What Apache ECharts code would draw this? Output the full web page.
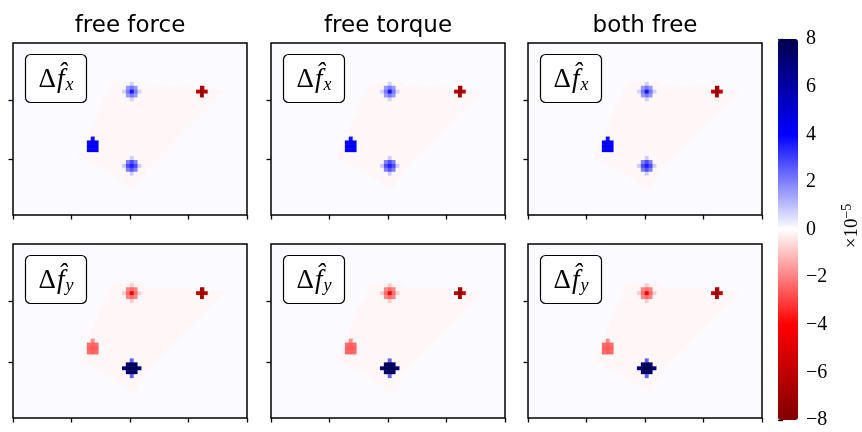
<!DOCTYPE html>
<html><head><meta charset="utf-8">
<script src="https://cdn.jsdelivr.net/npm/echarts@6/dist/echarts.min.js"></script>
<style>html,body{margin:0;padding:0;background:#fff}#c{width:862px;height:432px}</style>
</head><body><div id="c"></div>
<script>
// ---------- data ----------
const columnTitles = ['free force', 'free torque', 'both free'];
const rowComponents = ['x', 'y'];
const nCols = 60, nRows = 44;
// faint noisy region: [row, firstCol, lastCol]
const regionRows = [
  [10,25,33],[11,25,45],[12,24,53],[13,24,52],[14,23,51],[15,23,50],[16,22,49],
  [17,22,48],[18,22,47],[19,21,46],[20,21,45],[21,20,44],[22,20,43],[23,20,42],
  [24,19,41],[25,19,40],[26,18,39],[27,18,38],[28,17,37],[29,17,36],[30,19,35],
  [31,21,34],[32,23,33],[33,25,33],[34,26,32],[35,28,31],[36,29,31]
];
const regionValue = -0.12;
// blobs [col, row, value] (x 1e-5)
const fxBlobs = [
  [30,10,0.7],[28,12,0.7],[32,12,0.7],[30,14,0.7],
  [29,11,1.6],[30,11,2.1],[31,11,1.6],[29,12,2.1],[30,12,3.7],[31,12,2.1],[29,13,1.6],[30,13,2.1],[31,13,1.6],
  [48,11,-6.8],[48,12,-7.2],[48,13,-6.8],[47,12,-6.0],[49,12,-6.0],
  [20,24,3.8],[19,25,4.0],[20,25,4.1],[21,25,4.0],[19,26,4.1],[20,26,4.2],[21,26,4.1],[19,27,4.0],[20,27,4.1],[21,27,4.0],
  [30,29,0.8],[28,31,0.8],[32,31,0.8],[30,33,0.8],
  [29,30,2.0],[30,30,2.8],[31,30,2.0],[29,31,2.8],[30,31,3.5],[31,31,2.8],[29,32,2.0],[30,32,2.7],[31,32,2.0]
];
const fyBlobs = [
  [30,10,-0.8],[28,12,-0.8],[32,12,-0.8],[30,14,-0.8],
  [29,11,-1.9],[30,11,-2.3],[31,11,-1.9],[29,12,-2.3],[30,12,-4.2],[31,12,-2.3],[29,13,-1.9],[30,13,-2.3],[31,13,-1.9],
  [48,11,-6.8],[48,12,-7.2],[48,13,-6.8],[47,12,-6.0],[49,12,-6.0],
  [20,24,-1.8],[19,25,-2.3],[20,25,-2.5],[21,25,-2.3],[19,26,-2.5],[20,26,-2.6],[21,26,-2.5],[19,27,-2.3],[20,27,-2.5],[21,27,-2.3],
  [30,29,2.5],[30,33,2.5],
  [29,30,7.4],[30,30,7.6],[31,30,7.4],
  [28,31,7.0],[29,31,7.7],[30,31,7.9],[31,31,7.7],[32,31,7.0],
  [29,32,7.4],[30,32,7.6],[31,32,7.4]
];
const panelBlobs = [fxBlobs, fyBlobs];
const xTickValues = [0, 15, 30, 45, 60];
const yTickValues = [14.2, 29.4];
const cbMin = -8, cbMax = 8, cbStep = 2;
const cbColors = ['#800000', '#ff0000', '#ffffff', '#0000ff', '#00004d'];

// ---------- layout ----------
const panelLefts = [13, 271, 528];
const PW = 234;
const panelTops = [43, 244];
const panelHeights = [172, 174];
const cb = {left: 778, top: 39, width: 20, height: 381};

const colCats = Array.from({length: nCols}, (_, i) => i);
const rowCats = Array.from({length: nRows}, (_, i) => i);

function panelData(blobs) {
  const m = new Map();
  regionRows.forEach(([r, c0, c1]) => { for (let c = c0; c <= c1; c++) m.set(c + ',' + r, [c, r, regionValue]); });
  blobs.forEach(([c, r, v]) => m.set(c + ',' + r, [c, r, v]));
  return Array.from(m.values());
}

const grids = [], xAxes = [], yAxes = [], series = [], graphics = [];
const tickStyle = {color: '#000', width: 1.3};
for (let r = 0; r < 2; r++) {
  for (let c = 0; c < 3; c++) {
    const idx = r * 3 + c;
    const L = panelLefts[c], T = panelTops[r], H = panelHeights[r];
    grids.push({left: L, top: T, width: PW, height: H, show: true, borderColor: '#000', borderWidth: 1.5, backgroundColor: '#fbfbff'});
    xAxes.push({type: 'category', gridIndex: idx, data: colCats, show: false});
    xAxes.push({type: 'value', gridIndex: idx, min: 0, max: nCols, position: 'bottom',
      axisLine: {show: false}, axisTick: {show: true, inside: false, length: 4.5, customValues: xTickValues, lineStyle: tickStyle},
      axisLabel: {show: false}, splitLine: {show: false}});
    yAxes.push({type: 'category', gridIndex: idx, data: rowCats, inverse: true, show: false});
    yAxes.push({type: 'value', gridIndex: idx, min: 0, max: nRows, position: 'left',
      axisLine: {show: false}, axisTick: {show: true, inside: false, length: 4.5, customValues: yTickValues, lineStyle: tickStyle},
      axisLabel: {show: false}, splitLine: {show: false}});
    series.push({type: 'heatmap', xAxisIndex: 2 * idx, yAxisIndex: 2 * idx, data: panelData(panelBlobs[r]),
      silent: true, progressive: 0, itemStyle: {borderWidth: 0}, emphasis: {disabled: true}});
    // boxed label
    const bx = L + 12.5, by = T + 11.5, bw = 61, bh = 48;
    graphics.push({type: 'rect', z: 100, shape: {x: bx, y: by, width: bw, height: bh, r: 5},
      style: {fill: '#fff', stroke: '#000', lineWidth: 1.2}});
    graphics.push({type: 'text', z: 101, x: bx + bw / 2, y: by + bh / 2 + 1,
      style: {text: '{m|Δ}{i|f\u0302}{s|' + rowComponents[r] + '}', align: 'center', verticalAlign: 'middle',
        rich: {
          m: {fontFamily: 'Liberation Serif', fontSize: 27, lineHeight: 30, verticalAlign: 'middle', fill: '#000'},
          i: {fontFamily: 'Liberation Serif', fontStyle: 'italic', fontSize: 27, lineHeight: 30, verticalAlign: 'middle', fill: '#000', padding: [0, 1, 0, 1]},
          s: {fontFamily: 'Liberation Serif', fontStyle: 'italic', fontSize: 18, lineHeight: 18, verticalAlign: 'bottom', fill: '#000'}
        }}});
  }
}
// titles
for (let c = 0; c < 3; c++) {
  graphics.push({type: 'text', x: panelLefts[c] + PW / 2, y: 26.5,
    style: {text: columnTitles[c], fontFamily: 'DejaVu Sans', fontSize: 23, fill: '#000', align: 'center', verticalAlign: 'middle'}});
}
// colorbar exponent label
graphics.push({type: 'text', x: 851, y: 226, rotation: Math.PI / 2,
  style: {text: '{a|×10}{b|−5}', align: 'center', verticalAlign: 'middle',
    rich: {a: {fontFamily: 'Liberation Serif', fontSize: 19, lineHeight: 22, verticalAlign: 'bottom', fill: '#000'},
           b: {fontFamily: 'Liberation Serif', fontSize: 14, lineHeight: 14, verticalAlign: 'top', fill: '#000'}}}});

// colorbar axis
grids.push({left: cb.left, top: cb.top, width: cb.width, height: cb.height, show: false});
xAxes.push({type: 'value', gridIndex: 6, min: 0, max: 1, show: false});
yAxes.push({type: 'value', gridIndex: 6, min: cbMin, max: cbMax, interval: cbStep, position: 'right',
  axisLine: {show: false}, axisTick: {show: true, inside: false, length: 5, lineStyle: tickStyle},
  axisLabel: {show: true, margin: 8, color: '#000', fontFamily: 'Liberation Serif', fontSize: 20,
    formatter: v => (v < 0 ? '\u2212' + Math.abs(v) : String(v))},
  splitLine: {show: false}});

const chart = echarts.init(document.getElementById('c'), null, {renderer: 'canvas'});
chart.setOption({
  animation: false,
  backgroundColor: '#fff',
  grid: grids, xAxis: xAxes, yAxis: yAxes, series: series,
  visualMap: [{type: 'continuous', min: cbMin, max: cbMax, seriesIndex: [0, 1, 2, 3, 4, 5], calculable: false,
    show: true, left: cb.left, top: cb.top, itemWidth: cb.width, itemHeight: cb.height, padding: 0,
    text: null, showLabel: false, hoverLink: false, inRange: {color: cbColors}}],
  graphic: graphics
});
</script></body></html>
